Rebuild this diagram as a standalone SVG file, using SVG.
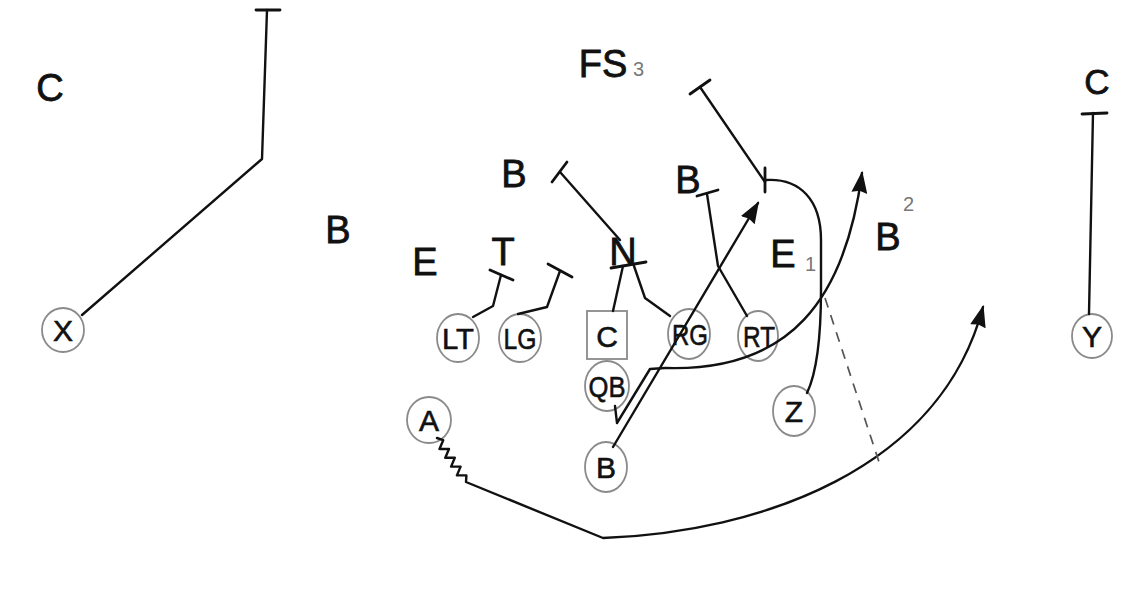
<svg xmlns="http://www.w3.org/2000/svg" width="1140" height="596" viewBox="0 0 1140 596">
<defs>
<style>
.p{fill:#fff;stroke:#8a8a8a;stroke-width:1.8}
.pl{font-family:"Liberation Sans",Arial,sans-serif;font-size:30px;text-anchor:middle;fill:#111;stroke:#111;stroke-width:0.6}
.d{font-family:"Liberation Sans",Arial,sans-serif;font-size:38px;text-anchor:middle;fill:#111;stroke:#111;stroke-width:0.8}
.sub{font-family:"Liberation Sans",Arial,sans-serif;font-size:20px;fill:#777}
.r{fill:none;stroke:#111;stroke-width:2.4;stroke-linejoin:round;stroke-linecap:round}
.bar{fill:none;stroke:#111;stroke-width:2.8;stroke-linecap:round}
.dash{fill:none;stroke:#555;stroke-width:1.7;stroke-dasharray:10 8}
</style>
<marker id="arr" viewBox="0 0 22 16" refX="20" refY="8" markerWidth="22" markerHeight="16" markerUnits="userSpaceOnUse" orient="auto">
<path d="M0,0 L22,8 L0,16 L2,8 z" fill="#111"/>
</marker>
</defs>
<rect width="1140" height="596" fill="#fff"/>

<g id="defense">
<text class="d" x="50" y="101">C</text>
<text class="d" x="1097" y="94" style="font-size:35px">C</text>
<text class="d" x="603" y="77">FS</text>
<text class="sub" x="633" y="76">3</text>
<text class="d" x="514" y="187">B</text>
<text class="d" x="688" y="193">B</text>
<text class="d" x="338" y="243">B</text>
<text class="d" x="425" y="275">E</text>
<text class="d" x="503" y="265">T</text>
<text class="d" x="623" y="265">N</text>
<text class="d" x="783" y="267">E</text>
<text class="sub" x="805" y="271">1</text>
<text class="d" x="888" y="250">B</text>
<text class="sub" x="903" y="211">2</text>
</g>

<g id="node-X"><ellipse class="p" cx="63" cy="330" rx="21" ry="22"/><text class="pl" x="63" y="341">X</text></g>
<g id="node-LT"><ellipse class="p" cx="458" cy="338" rx="21" ry="24"/><text class="pl" x="458" y="349" textLength="32" lengthAdjust="spacingAndGlyphs">LT</text></g>
<g id="node-LG"><ellipse class="p" cx="520" cy="338" rx="21" ry="24"/><text class="pl" x="520" y="349" textLength="33" lengthAdjust="spacingAndGlyphs">LG</text></g>
<g id="node-C"><rect class="p" x="587" y="311" width="40" height="48"/><text class="pl" x="607" y="347">C</text></g>
<g id="node-QB"><ellipse class="p" cx="607" cy="386" rx="22" ry="25"/><text class="pl" x="607" y="397" textLength="37" lengthAdjust="spacingAndGlyphs">QB</text></g>
<g id="node-RG"><ellipse class="p" cx="689" cy="334" rx="21" ry="25"/><text class="pl" x="690" y="345" textLength="36" lengthAdjust="spacingAndGlyphs">RG</text></g>
<g id="node-RT"><ellipse class="p" cx="758" cy="336" rx="20" ry="25"/><text class="pl" x="759" y="347" textLength="32" lengthAdjust="spacingAndGlyphs">RT</text></g>
<g id="node-A"><ellipse class="p" cx="429" cy="420" rx="22" ry="23"/><text class="pl" x="429" y="431">A</text></g>
<g id="node-B"><ellipse class="p" cx="606" cy="467" rx="21" ry="25"/><text class="pl" x="606" y="478">B</text></g>
<g id="node-Z"><ellipse class="p" cx="794" cy="411" rx="21" ry="25"/><text class="pl" x="794" y="422">Z</text></g>
<g id="node-Y"><ellipse class="p" cx="1092" cy="336" rx="20" ry="22"/><text class="pl" x="1092" y="347">Y</text></g>

<g id="connectors">
<path class="r" d="M82,315 L262,159 L267,10"/>
<path class="bar" d="M256,10 L280,10"/>
<path class="r" d="M1089,314 L1093,113"/>
<path class="bar" d="M1082,114 L1107,113"/>
<path class="r" d="M473,317 L493,306 L501,275"/>
<path class="bar" d="M490,270 L513,280"/>
<path class="r" d="M518,314 L547,307 L560,271"/>
<path class="bar" d="M548,264 L572,277"/>
<path class="r" d="M613,311 L623,266"/>
<path class="r" d="M670,316 L645,298 L634,266"/>
<path class="bar" d="M611,268 L646,262"/>
<path class="r" d="M560,172 L620,240"/>
<path class="bar" d="M552,182 L567,162"/>
<path class="r" d="M747,316 L718,266 L707,194"/>
<path class="bar" d="M697,196 L718,190"/>
<path class="r" d="M700,87 L765,182"/>
<path class="bar" d="M690,94 L710,80"/>
<path class="r" d="M807,393 C818,370 821,330 821,290 L821,240 C821,200 800,178 766,180"/>
<path class="bar" d="M765,168 L765,192"/>
<path class="r" d="M613,447 L758,203" marker-end="url(#arr)"/>
<path class="r" d="M615,406 L617,423 L650,369 L665,368 C790,372 845,300 862,173" marker-end="url(#arr)"/>
<path class="r" d="M437,438 L443.2,440.2 L439.5,449 L449,449 L445.3,457.8 L454.8,457.8 L451.1,466.6 L460.6,466.6 L456.9,475.4 L466.4,475.4 L466,482 L603,538 C760,532 940,470 983,307" marker-end="url(#arr)"/>
<path class="dash" d="M825,298 L880,465"/>
</g>
</svg>
